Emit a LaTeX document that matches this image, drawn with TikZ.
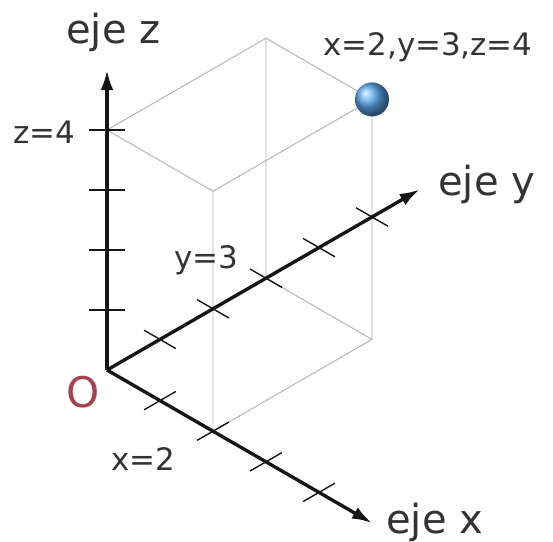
\documentclass[tikz,border=0pt]{standalone}
\usepackage{fontspec}
\setmainfont{DejaVu Sans}
\usetikzlibrary{arrows.meta}
\definecolor{ejes}{HTML}{151515}
\definecolor{texto}{HTML}{333333}
\definecolor{caja}{HTML}{B4B4B4}
\definecolor{origen}{HTML}{A8414E}
\definecolor{punto}{HTML}{5AA8EC}
\tikzset{
	eje/.style={-{Latex[length=0.5cm,width=0.32cm]}, line width=2.4pt, draw=ejes},
	marca/.style={line width=1pt, draw=ejes},
	arista/.style={line width=0.7pt, draw=caja},
	rotulo/.style={text=texto, inner sep=0pt, anchor=base west, font=\fontsize{28.5}{30}\selectfont},
	valor/.style={text=texto, inner sep=0pt, anchor=base west, font=\fontsize{22}{24}\selectfont}
}
\begin{document}
\begin{tikzpicture}[x={(1.325cm,-0.765cm)}, y={(1.325cm,0.765cm)}, z={(0cm,1.5cm)}]
	\path[use as bounding box] (-2.675cm,-4.275cm) rectangle (11.15cm,9.25cm);
	\coordinate (O) at (0,0,0);
	\coordinate (A) at (2,0,0);
	\coordinate (B) at (0,3,0);
	\coordinate (C) at (2,3,0);
	\coordinate (D) at (0,0,4);
	\coordinate (E) at (2,0,4);
	\coordinate (F) at (0,3,4);
	\coordinate (P) at (2,3,4);
	\draw[arista] (D)--(E)--(P)--(F)--cycle;
	\draw[arista] (E)--(A)--(C)--(P) (C)--(B)--(F);
	\foreach \k in {1,...,4}
		\draw[marca] ([xshift=-0.45cm]0,0,\k)--([xshift=0.45cm]0,0,\k);
	\foreach \k in {1,...,5}
		\draw[marca] (-0.3,\k,0)--(0.3,\k,0);
	\foreach \k in {1,...,4}
		\draw[marca] (\k,-0.3,0)--(\k,0.3,0);
	\draw[eje] (O)--(0,0,5) coordinate (zfin);
	\draw[eje] (O)--(0,5.9,0) coordinate (yfin);
	\draw[eje] (O)--(5,0,0) coordinate (xfin);
	\shade[ball color=punto] (P) circle (0.425cm);
	\node[rotulo] (ejez) at (-1.025cm,8.175cm) {eje z};
	\node[rotulo] (ejey) at (8.275cm,4.375cm) {eje y};
	\node[rotulo] (ejex) at (6.975cm,-4.075cm) {eje x};
	\node[valor] (punto) at (5.4cm,7.875cm) {x=2,y=3,z=4};
	\node[valor] (zval) at (-2.35cm,5.675cm) {z=4};
	\node[valor] (yval) at (1.675cm,2.55cm) {y=3};
	\node[valor] (xval) at (0.1cm,-2.5cm) {x=2};
	\node[rotulo, text=origen, font=\fontsize{30}{32}\selectfont] (origen) at (-1.025cm,-0.925cm) {O};
\end{tikzpicture}
\end{document}
